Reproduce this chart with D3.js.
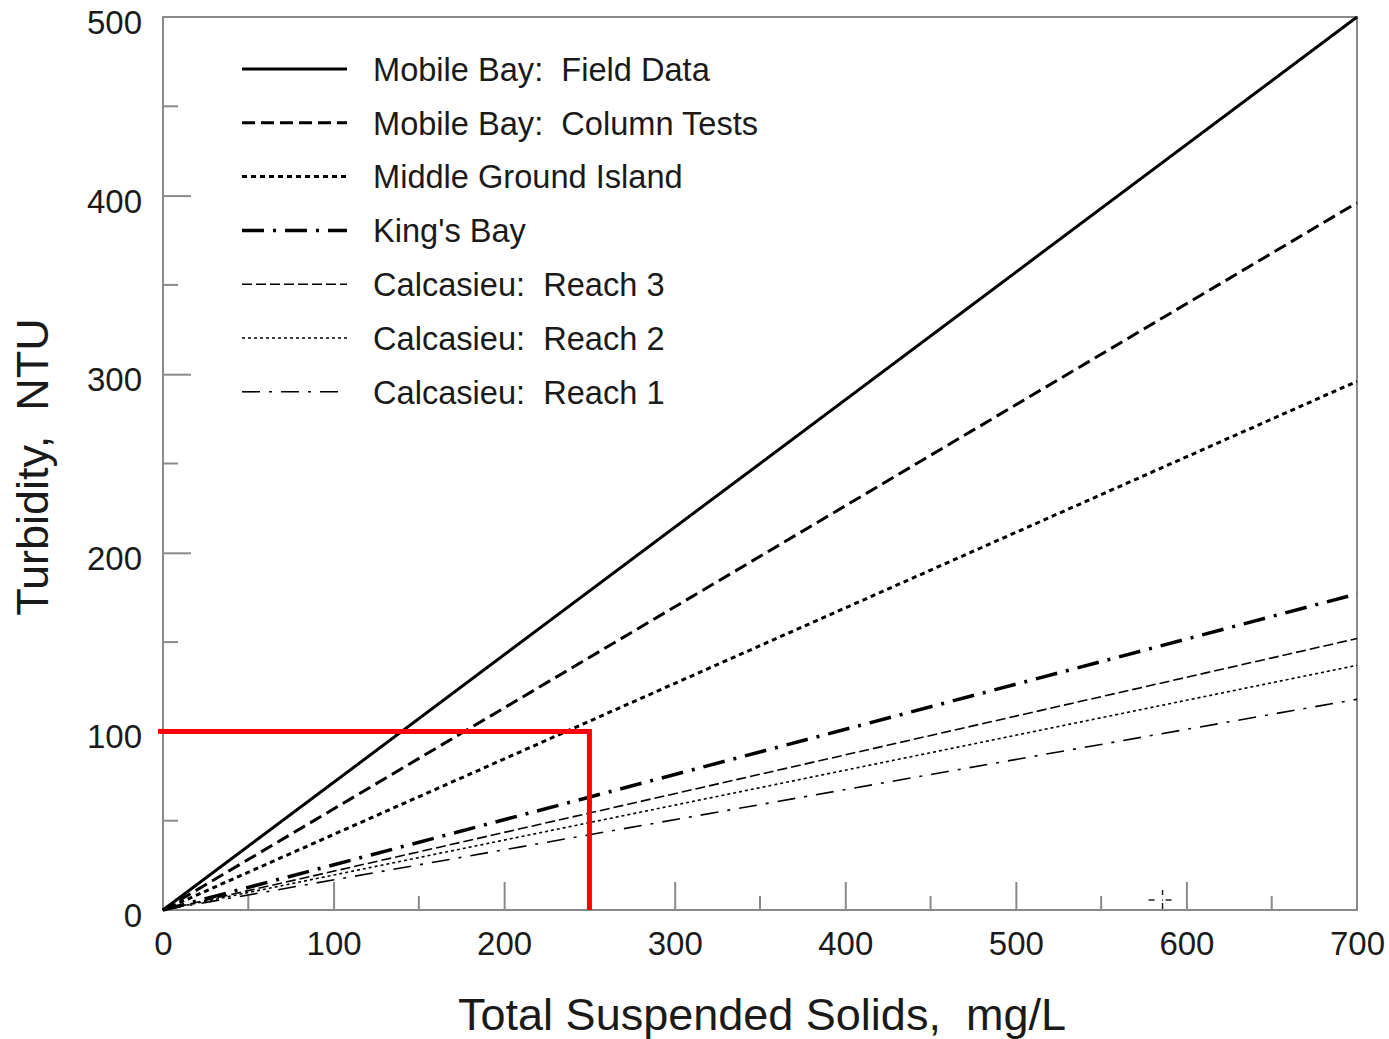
<!DOCTYPE html>
<html>
<head>
<meta charset="utf-8">
<script src="https://cdn.jsdelivr.net/npm/d3@7"></script>
<style>
html,body{margin:0;padding:0;background:#fff;}
svg text{font-family:"Liberation Sans",Arial,sans-serif;fill:#1a1a1a;white-space:pre;}
</style>
</head>
<body>
<svg id="chart" width="1389" height="1039"></svg>
<script>
// ---- data ----
const seriesNames = ["Mobile Bay:  Field Data","Mobile Bay:  Column Tests","Middle Ground Island","King's Bay","Calcasieu:  Reach 3","Calcasieu:  Reach 2","Calcasieu:  Reach 1"];
const tssValues = [0, 700];
const fieldData = [0, 500];
const columnTests = [0, 396];
const middleGround = [0, 296];
const kingsBay = [0, 177];
const reach3 = [0, 152];
const reach2 = [0, 137];
const reach1 = [0, 118];
const xTicks = [0,100,200,300,400,500,600,700];
const yTicks = [0,100,200,300,400,500];
const xMinorTicks = [50,150,250,350,450,550,650];
const yMinorTicks = [50,150,250,350,450];
const refX = [0, 250, 250];
const refY = [100, 100, 0];

// ---- styles ----
const styles = [
  {w:3,   dash:null},
  {w:3,   dash:"13,6"},
  {w:3,   dash:"5,4"},
  {w:3.5, dash:"22,9,3,9"},
  {w:1.6, dash:"10,4"},
  {w:1.6, dash:"3,3"},
  {w:1.6, dash:"18,9,3,9"}
];
const seriesData = [fieldData,columnTests,middleGround,kingsBay,reach3,reach2,reach1];

const svg = d3.select("#chart");
const L=163, R=1357, T=17, B=910;
const x = d3.scaleLinear().domain([0,700]).range([L,R]);
const y = d3.scaleLinear().domain([0,500]).range([B,T]);
const axisColor = "#8a8a8a";

// frame
svg.append("rect").attr("x",L).attr("y",T).attr("width",R-L).attr("height",B-T)
  .attr("fill","none").attr("stroke",axisColor).attr("stroke-width",2);

// bottom axis (inward ticks)
const xAxis = d3.axisBottom(x).tickValues(xTicks).tickSize(-28).tickFormat(d3.format("d")).tickPadding(22);
const gx = svg.append("g").attr("transform",`translate(0,${B})`).call(xAxis);
gx.select(".domain").remove();
gx.selectAll(".tick line").attr("stroke",axisColor).attr("stroke-width",2);
gx.selectAll(".tick text").style("font-size","33px").attr("fill","#1a1a1a");
gx.selectAll(".tick").filter(d=>d===0||d===700).select("line").remove();
svg.append("g").selectAll("line").data(xMinorTicks).join("line")
  .attr("x1",d=>x(d)).attr("x2",d=>x(d)).attr("y1",B).attr("y2",B-14)
  .attr("stroke",axisColor).attr("stroke-width",2);

// left axis (inward ticks)
const yAxis = d3.axisLeft(y).tickValues(yTicks).tickSize(-28).tickFormat(d3.format("d")).tickPadding(21);
const gy = svg.append("g").attr("transform",`translate(${L},0)`).call(yAxis);
gy.select(".domain").remove();
gy.selectAll(".tick line").attr("stroke",axisColor).attr("stroke-width",2);
gy.selectAll(".tick text").style("font-size","33px").attr("fill","#1a1a1a").attr("dy","0.5em");
gy.selectAll(".tick").filter(d=>d===0||d===500).select("line").remove();
svg.append("g").selectAll("line").data(yMinorTicks).join("line")
  .attr("x1",L).attr("x2",L+15).attr("y1",d=>y(d)).attr("y2",d=>y(d))
  .attr("stroke",axisColor).attr("stroke-width",2);

// series lines
const line = d3.line().x((d,i)=>x(tssValues[i])).y(d=>y(d));
seriesData.forEach((s,i)=>{
  svg.append("path").datum(s).attr("d",line)
    .attr("fill","none").attr("stroke","#000")
    .attr("stroke-width",styles[i].w)
    .attr("stroke-dasharray",styles[i].dash);
});

// red reference lines
svg.append("path")
  .datum(refX.map((v,i)=>[v,refY[i]]))
  .attr("d",d3.line().x(d=>x(d[0])).y(d=>y(d[1])))
  .attr("fill","none").attr("stroke","#ff0000").attr("stroke-width",5);
svg.append("line").attr("x1",x(0)-5).attr("x2",x(0)).attr("y1",y(100)).attr("y2",y(100))
  .attr("stroke","#ff0000").attr("stroke-width",5);

// small crosshair artifact
const cx = x(586), cy = y(5.6);
svg.append("g").attr("stroke","#222").attr("stroke-width",1.5).call(g=>{
  g.append("line").attr("x1",cx-14).attr("x2",cx-8).attr("y1",cy).attr("y2",cy);
  g.append("line").attr("x1",cx+3).attr("x2",cx+9).attr("y1",cy).attr("y2",cy);
  g.append("line").attr("x1",cx).attr("x2",cx).attr("y1",cy-10).attr("y2",cy-5);
  g.append("line").attr("x1",cx).attr("x2",cx).attr("y1",cy+3).attr("y2",cy+9);
  g.append("line").attr("x1",cx-0.5).attr("x2",cx+0.5).attr("y1",cy).attr("y2",cy);
});

// legend
const lg = svg.append("g");
seriesNames.forEach((name,i)=>{
  const ly = 69 + i*53.8;
  lg.append("line").attr("x1",242).attr("x2",347).attr("y1",ly).attr("y2",ly)
    .attr("stroke","#000").attr("stroke-width",styles[i].w)
    .attr("stroke-dasharray",styles[i].dash);
  lg.append("text").attr("x",373).attr("y",ly).attr("dy","0.36em")
    .style("font-size","32.6px").text(name);
});

// axis titles
svg.append("text").attr("x",762).attr("y",1030).attr("text-anchor","middle")
  .style("font-size","45px").text("Total Suspended Solids,  mg/L");
svg.append("text").attr("transform","translate(48,467) rotate(-90)").attr("text-anchor","middle")
  .style("font-size","45px").text("Turbidity,  NTU");
</script>
</body>
</html>
